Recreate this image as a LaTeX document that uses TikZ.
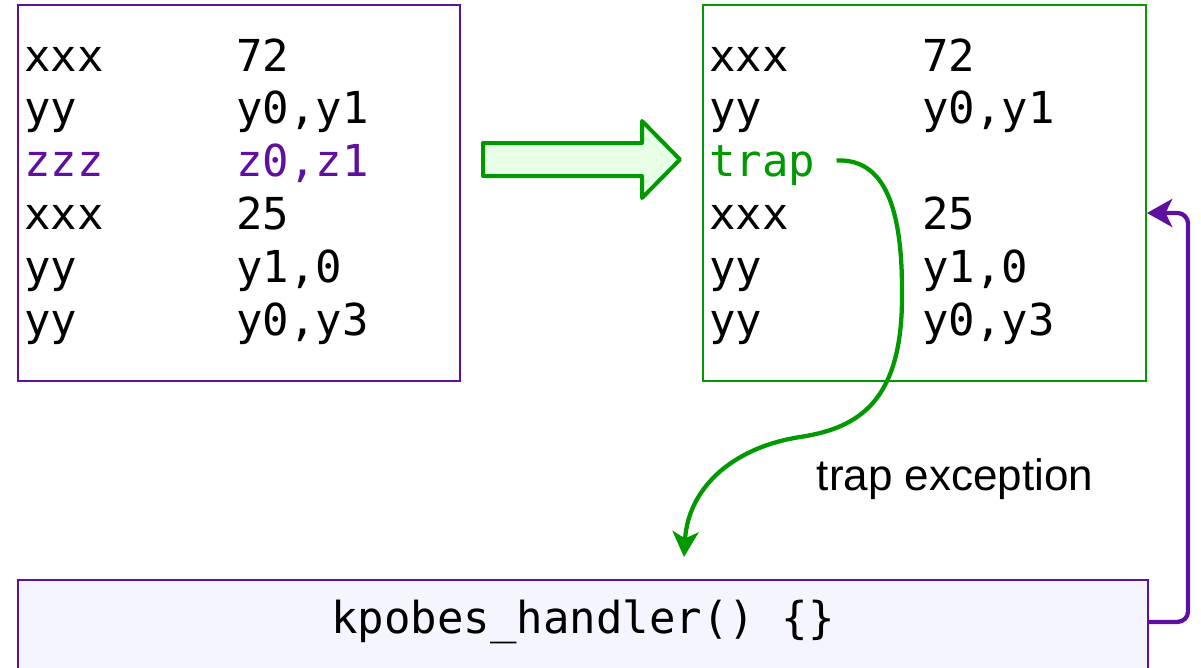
\documentclass[tikz,border=0pt]{standalone}
\usepackage{fontspec}
\setmainfont{Liberation Sans}
\newfontfamily\monof{DejaVu Sans Mono}
\usetikzlibrary{arrows.meta,calc}
\definecolor{purp}{RGB}{96,16,160}
\definecolor{grn}{RGB}{0,153,0}
\definecolor{lgrn}{RGB}{230,255,230}
\definecolor{lav}{RGB}{245,245,255}
\begin{document}
\begin{tikzpicture}[x=0.75pt,y=-0.75pt,
  code/.style={font=\monof\fontsize{33}{38}\selectfont, inner sep=0pt, anchor=base west},
  boxp/.style={draw=purp, line width=1.6pt, inner sep=0pt},
  boxg/.style={draw=grn, line width=1.3pt, inner sep=0pt},
  conn/.style={line width=3.2pt}]
\useasboundingbox (0,0) rectangle (1201,667);
\clip (0,0) rectangle (1201,667);
\fill[white] (0,0) rectangle (1201,667);
% boxes
\node[boxp, minimum width=331.5pt, minimum height=282pt] (L) at (239,193) {};
\node[boxg, minimum width=332.25pt, minimum height=282pt] (R) at (924.5,193) {};
\node[boxp, fill=lav, minimum width=847.5pt, minimum height=90pt] (B) at (583,640) {};
% left texts
\node[code] (l1a) at (24,71) {xxx};   \node[code] (l1b) at (236,71) {72};
\node[code] (l2a) at (24,123.5) {yy}; \node[code] (l2b) at (236,123.5) {y0,y1};
\node[code, text=purp] (l3a) at (24,176.5) {zzz}; \node[code, text=purp] (l3b) at (236,176.5) {z0,z1};
\node[code] (l4a) at (24,229.5) {xxx}; \node[code] (l4b) at (236,229.5) {25};
\node[code] (l5a) at (24,282) {yy};   \node[code] (l5b) at (236,282) {y1,0};
\node[code] (l6a) at (24,335) {yy};   \node[code] (l6b) at (236,335) {y0,y3};
% right texts
\node[code] (r1a) at (709,71) {xxx};   \node[code] (r1b) at (922,71) {72};
\node[code] (r2a) at (709,123.5) {yy}; \node[code] (r2b) at (922,123.5) {y0,y1};
\node[code, text=grn] (r3a) at (709,176.5) {trap};
\node[code] (r4a) at (709,229.5) {xxx}; \node[code] (r4b) at (922,229.5) {25};
\node[code] (r5a) at (709,282) {yy};   \node[code] (r5b) at (922,282) {y1,0};
\node[code] (r6a) at (709,335) {yy};   \node[code] (r6b) at (922,335) {y0,y3};
% bottom text
\node[code, anchor=base] (bt) at (583,633) {kpobes\char95 handler() \{\}};
% big arrow
\draw[grn, fill=lgrn, line width=3pt, line join=round]
  (483,143) -- (642,143) -- (642,121) -- (680,159.5) -- (642,198) -- (642,176) -- (483,176) -- cycle;
% trap curve
\coordinate (ts) at ($(r3a.base east)+(21,-16)$);
\coordinate (te) at (684,557);
\draw[grn, conn, -{Stealth[length=19pt, width=19.5pt, inset=5pt]}]
  (ts) .. controls (890,158) and (903,220) .. (902,300)
       .. controls (901,400) and (860,428) .. (800,437)
       .. controls (730,448) and (688,490) .. (te);
\node[font=\fontsize{33}{38}\selectfont, inner sep=0pt, anchor=base] (lab) at (955,490) {trap exception};
% return connector
\draw[purp, conn, rounded corners=8pt, -{Stealth[length=19pt, width=21pt, inset=5pt]}]
  ($(B.north east)+(0,43)$) -- ++(39,0) |- ($(R.east)+(0,20)$);
\end{tikzpicture}
\end{document}
